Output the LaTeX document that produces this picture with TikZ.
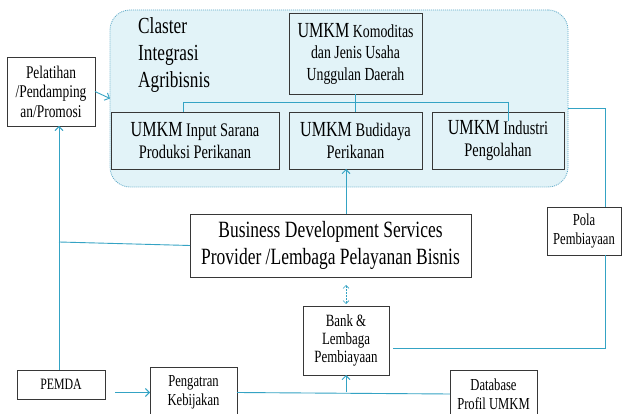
\documentclass[tikz,border=0pt]{standalone}
\usepackage{fontspec}
\setmainfont{Liberation Serif}[FakeStretch=0.75]
\usetikzlibrary{arrows.meta}
\definecolor{lc}{RGB}{52,163,196}
\definecolor{clfill}{RGB}{226,243,248}
\definecolor{clborder}{RGB}{95,170,200}
\definecolor{bx}{RGB}{55,55,55}
\newcommand\umkmword{{\fontsize{21.5}{22}\selectfont UMKM}}
\begin{document}
\begin{tikzpicture}[x=1pt,y=-1pt,
  box/.style={draw=bx, line width=0.7pt, inner sep=0pt, outer sep=0pt, align=center, fill=white},
  inbox/.style={box, fill=none, font=\fontsize{19.2}{21.5}\selectfont},
  smallbox/.style={box, font=\fontsize{16.8}{19}\selectfont},
  cluster/.style={draw=clborder, line width=0.8pt, dash pattern=on 1pt off 1pt, fill=clfill, rounded corners=20pt, inner sep=0pt, outer sep=0pt},
  conn/.style={draw=lc, line width=0.9pt},
  arr/.style={conn, -{Straight Barb[length=4pt,width=8pt]}},
  darr/.style={conn, line width=0.7pt, dash pattern=on 2pt off 1pt, {Straight Barb[length=3pt,width=6pt]}-{Straight Barb[length=3pt,width=6pt]}}
]
\clip (0,0) rectangle (622,414);
\fill[white] (0,0) rectangle (622,414);

% cluster
\node[cluster, minimum width=458pt, minimum height=177pt] (cl) at (339,98.5) {};
\node[anchor=north west, align=left, inner sep=0pt, font=\fontsize{23}{27}\selectfont] (clt) at (138,17) {Claster\\Integrasi\\Agribisnis};

\node[inbox, minimum width=133pt, minimum height=81pt, font=\fontsize{18.4}{21.5}\selectfont] (kom) at (355.5,53.5) {\umkmword{} Komoditas\\dan Jenis Usaha\\Unggulan Daerah};
\node[inbox, minimum width=168pt, minimum height=57pt] (inp) at (195,140.5) {\umkmword{} Input Sarana\\Produksi Perikanan};
\node[inbox, minimum width=133pt, minimum height=57pt] (bud) at (355.5,140.5) {\umkmword{} Budidaya\\Perikanan};
\node[inbox, minimum width=132pt, minimum height=57pt] (ind) at (498,140.5) {\umkmword{} Industri\\Pengolahan};

% outer boxes
\node[smallbox, minimum width=88pt, minimum height=69pt, font=\fontsize{17.9}{19.5}\selectfont] (pel) at (51,91.5) {Pelatihan\\/Pendamping\\an/Promosi};
\node[box, minimum width=281pt, minimum height=63pt, font=\fontsize{23.3}{27}\selectfont] (bds) at (330.5,245.5) {Business Development Services\\Provider /Lembaga Pelayanan Bisnis};
\node[smallbox, minimum width=74pt, minimum height=48pt] (pola) at (584,231) {Pola\\Pembiayaan};
\node[smallbox, minimum width=86pt, minimum height=69pt, font=\fontsize{17.2}{18}\selectfont] (bank) at (346,340.5) {Bank \&\\Lembaga\\Pembiayaan};
\node[smallbox, minimum width=88pt, minimum height=29pt, font=\fontsize{15.8}{19}\selectfont] (pemda) at (61,384.5) {PEMDA};
\node[smallbox, minimum width=87pt, minimum height=51pt] (peng) at (193.5,392.5) {Pengatran\\Kebijakan};
\node[smallbox, minimum width=87pt, minimum height=48pt] (db) at (493.5,394) {Database\\Profil UMKM};

% coordinates
\coordinate (tl) at (183,102);
\coordinate (tr) at (508,102);
\coordinate (tre) at (508,121);
\coordinate (lx) at (59,0);
\coordinate (lj) at (59,242);
\coordinate (pa) at (115,392.5);
\coordinate (cr) at (568,108);
\coordinate (pc) at (605,108);
\coordinate (bq) at (393,348);
\coordinate (pb) at (605,348);
\coordinate (dt) at (346,285);
\coordinate (db2) at (346,304);

% tree inside cluster
\draw[conn] (tl) -- (tr);
\draw[conn] (tl) -- (tl |- inp.north);
\draw[conn] (kom.south) -- (bud.north);
\draw[conn] (tr) -- (tre);

% connectors
\draw[arr] (pel.east) -- (cl.west);
\draw[arr] (pemda.north -| lx) -- (pel.south -| lx);
\draw[conn] (lj) -- (bds.west);
\draw[arr] (bds.north -| bank.north) -- (bud.south -| bank.north);
\draw[darr] (dt) -- (db2);
\draw[arr] (pa) -- (peng.west);
\draw[conn] (peng.east) -- (db.west);
\draw[arr] (peng.east -| bank.south) -- (bank.south);
\draw[conn] (cr) -- (pc) -- (pola.north -| pc);
\draw[conn] (pola.south -| pc) -- (pb) -- (bq);
\end{tikzpicture}
\end{document}
